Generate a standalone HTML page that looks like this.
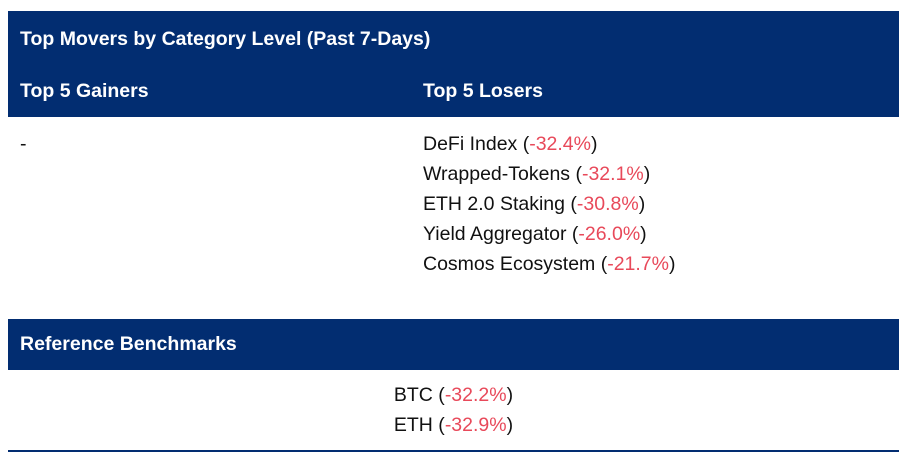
<!DOCTYPE html>
<html><head><meta charset="utf-8"><style>
body{margin:0;width:908px;height:462px;background:#fff;font-family:"Liberation Sans",sans-serif;position:relative;overflow:hidden}
.box{position:absolute;left:8px;width:891px;background:#022d71}
.t{position:absolute;white-space:nowrap;line-height:1}
.h{color:#fff;font-weight:bold;font-size:19.5px}
.b{color:#111;font-size:19.5px}
.r{color:#e8495a}
</style></head><body>
<div class="box" style="top:11px;height:106px"></div>
<div class="t h" style="left:20px;top:30px">Top Movers by Category Level (Past 7-Days)</div>
<div class="t h" style="left:20px;top:82px">Top 5 Gainers</div>
<div class="t h" style="left:423px;top:82px">Top 5 Losers</div>
<div class="t b" style="left:20px;top:135px">-</div>
<div class="t b" style="left:423px;top:135px">DeFi Index (<span class="r">-32.4%</span>)</div>
<div class="t b" style="left:423px;top:165px">Wrapped-Tokens (<span class="r">-32.1%</span>)</div>
<div class="t b" style="left:423px;top:195px">ETH 2.0 Staking (<span class="r">-30.8%</span>)</div>
<div class="t b" style="left:423px;top:225px">Yield Aggregator (<span class="r">-26.0%</span>)</div>
<div class="t b" style="left:423px;top:255px">Cosmos Ecosystem (<span class="r">-21.7%</span>)</div>
<div class="box" style="top:319px;height:51px"></div>
<div class="t h" style="left:20px;top:335px">Reference Benchmarks</div>
<div class="t b" style="left:8px;width:891px;text-align:center;top:386px">BTC (<span class="r">-32.2%</span>)</div>
<div class="t b" style="left:8px;width:891px;text-align:center;top:416px">ETH (<span class="r">-32.9%</span>)</div>
<div class="box" style="top:450px;height:2px"></div>
</body></html>
